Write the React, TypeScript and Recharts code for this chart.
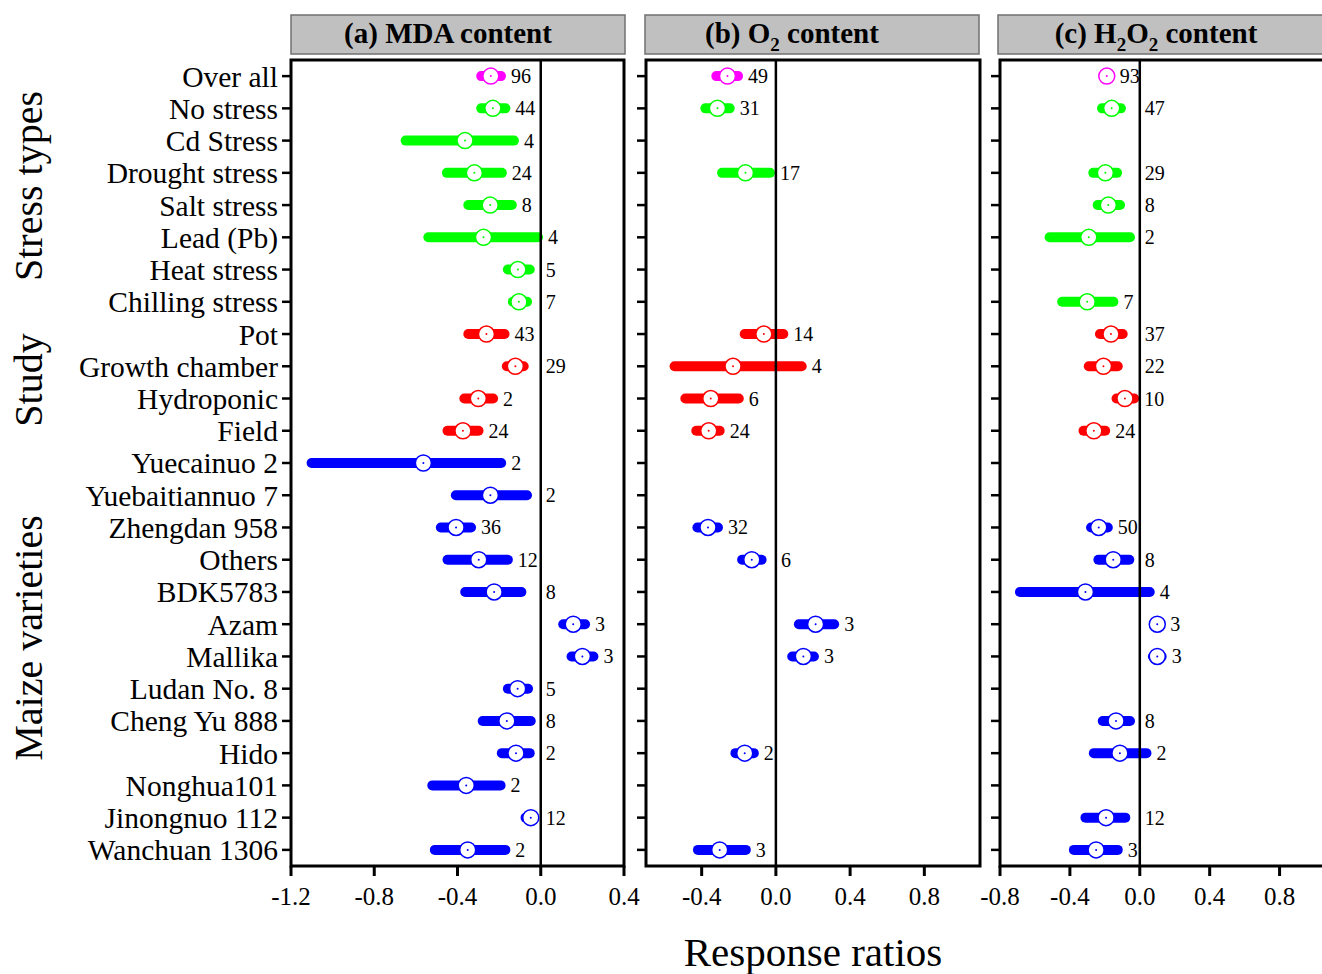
import React from 'react';
import { ComposedChart, XAxis, YAxis, Scatter, ReferenceLine, ReferenceArea } from 'recharts';

const categories = [
  'Over all', 'No stress', 'Cd Stress', 'Drought stress', 'Salt stress', 'Lead (Pb)', 'Heat stress',
  'Chilling stress', 'Pot', 'Growth chamber', 'Hydroponic', 'Field', 'Yuecainuo 2', 'Yuebaitiannuo 7',
  'Zhengdan 958', 'Others', 'BDK5783', 'Azam', 'Mallika', 'Ludan No. 8', 'Cheng Yu 888', 'Hido',
  'Nonghua101', 'Jinongnuo 112', 'Wanchuan 1306',
];

// group of each row: 0 = overall, 1 = stress types, 2 = study, 3 = maize varieties
const rowGroup = [0, 1, 1, 1, 1, 1, 1, 1, 2, 2, 2, 2, 3, 3, 3, 3, 3, 3, 3, 3, 3, 3, 3, 3, 3];
const groupColors = ['#FF00FF', '#00FF00', '#FF0000', '#0000FF'];

// (a) MDA content
const mdaMean = [-0.24, -0.23, -0.364, -0.319, -0.243, -0.275, -0.11, -0.105, -0.261, -0.122, -0.3, -0.374, -0.564, -0.242, -0.407, -0.298, -0.224, 0.156, 0.2, -0.111, -0.163, -0.119, -0.358, -0.048, -0.351];
const mdaLow = [-0.286, -0.286, -0.649, -0.451, -0.348, -0.54, -0.158, -0.134, -0.348, -0.163, -0.367, -0.448, -1.101, -0.408, -0.48, -0.448, -0.363, 0.108, 0.148, -0.158, -0.279, -0.187, -0.521, -0.073, -0.509];
const mdaHigh = [-0.191, -0.17, -0.129, -0.187, -0.139, -0.013, -0.053, -0.066, -0.174, -0.082, -0.229, -0.299, -0.19, -0.066, -0.335, -0.158, -0.093, 0.213, 0.253, -0.061, -0.048, -0.053, -0.193, -0.032, -0.17];
const mdaN = [96, 44, 4, 24, 8, 4, 5, 7, 43, 29, 2, 24, 2, 2, 36, 12, 8, 3, 3, 5, 8, 2, 2, 12, 2];

// (b) O2 content
const o2Mean = [-0.261, -0.315, null, -0.164, null, null, null, null, -0.065, -0.231, -0.351, -0.362, null, null, -0.366, -0.13, null, 0.214, 0.148, null, null, -0.168, null, null, -0.303];
const o2Low = [-0.321, -0.38, null, -0.29, null, null, null, null, -0.168, -0.546, -0.488, -0.429, null, null, -0.423, -0.182, null, 0.124, 0.088, null, null, -0.218, null, null, -0.42];
const o2High = [-0.204, -0.249, null, -0.032, null, null, null, null, 0.04, 0.139, -0.2, -0.303, null, null, -0.312, -0.077, null, 0.314, 0.205, null, null, -0.119, null, null, -0.162];
const o2N = [49, 31, null, 17, null, null, null, null, 14, 4, 6, 24, null, null, 32, 6, null, 3, 3, null, null, 2, null, null, 3];

// (c) H2O2 content
const h2o2Mean = [-0.189, -0.161, null, -0.197, -0.18, -0.292, null, -0.301, -0.165, -0.208, -0.085, -0.263, null, null, -0.235, -0.152, -0.311, 0.1, 0.1, null, -0.136, -0.114, null, -0.193, -0.25];
const h2o2Low = [-0.205, -0.216, null, -0.266, -0.241, -0.516, null, -0.444, -0.228, -0.292, -0.133, -0.322, null, null, -0.279, -0.237, -0.686, 0.095, 0.075, null, -0.212, -0.263, null, -0.311, -0.377];
const h2o2High = [-0.175, -0.108, null, -0.13, -0.113, -0.056, null, -0.151, -0.098, -0.126, -0.032, -0.198, null, null, -0.183, -0.06, 0.057, 0.105, 0.125, null, -0.056, 0.038, null, -0.083, -0.126];
const h2o2N = [93, 47, null, 29, 8, 2, null, 7, 37, 22, 10, 24, null, null, 50, 8, 4, 3, 3, null, 8, 2, null, 12, 3];

const rowIndex = categories.map((_, i) => i);

type Row = { y: number; x: number; lo: number; hi: number; n: number; color: string };

function buildRows(mean: (number | null)[], lo: (number | null)[], hi: (number | null)[], n: (number | null)[]): Row[] {
  const rows: Row[] = [];
  categories.forEach((_, i) => {
    if (mean[i] == null) return;
    rows.push({ y: i, x: mean[i] as number, lo: lo[i] as number, hi: hi[i] as number, n: n[i] as number, color: groupColors[rowGroup[i]] });
  });
  return rows;
}

const FONT = '"Liberation Serif", "Times New Roman", serif';

const Marker = (props: any) => {
  const { cx, cy, payload } = props;
  if (cx == null || cy == null) return null;
  return (
    <g>
      <circle cx={cx} cy={cy} r={8} fill="#fff" stroke={payload.color} strokeWidth={1.5} />
      <circle cx={cx} cy={cy} r={1} fill={payload.color} />
    </g>
  );
};

const NLabel = (props: any) => {
  const { cx, cy, payload } = props;
  if (cx == null || cy == null) return null;
  return (
    <text x={cx} y={cy} dy="0.35em" fontSize={20} fontFamily={FONT} fill="#000">
      {payload.n}
    </text>
  );
};

type PanelProps = {
  rows: Row[];
  domain: [number, number];
  ticks: number[];
  showLabels: boolean;
  left: number;
  width: number;
  yAxisWidth: number;
  marginRight: number;
};

function Panel({ rows, domain, ticks, showLabels, left, width, yAxisWidth, marginRight }: PanelProps) {
  // place the count label just right of the bar end (or marker), stepping past the zero line if it would cross it
  const plotW = width - yAxisWidth - marginRight;
  const ppu = plotW / (domain[1] - domain[0]);
  const labelRows = rows.map((r) => {
    let start = Math.max(r.hi * ppu + 5, r.x * ppu + 8) + 5;
    const w = String(r.n).length * 10;
    if (start < 4 && start + w > 0) start = 5;
    return { ...r, x: start / ppu };
  });
  return (
    <div style={{ position: 'absolute', left, top: 0 }}>
      <ComposedChart width={width} height={974} margin={{ top: 60, right: marginRight, bottom: 0, left: 0 }}>
        <XAxis
          type="number"
          dataKey="x"
          domain={domain}
          ticks={ticks}
          interval={0}
          allowDataOverflow
          height={108}
          tickSize={10}
          tickMargin={11}
          axisLine={false}
          tickLine={{ stroke: '#000', strokeWidth: 3 }}
          tick={{ fontSize: 25, fill: '#000', fontFamily: FONT }}
          tickFormatter={(v: number) => v.toFixed(1)}
        />
        <YAxis
          type="number"
          dataKey="y"
          domain={[-0.5, 24.5]}
          reversed
          ticks={rowIndex}
          interval={0}
          allowDataOverflow
          width={yAxisWidth}
          tickSize={9}
          tickMargin={4}
          axisLine={false}
          tickLine={{ stroke: '#000', strokeWidth: 2.5 }}
          tick={{ fontSize: 29.5, fill: '#000', fontFamily: FONT }}
          tickFormatter={(v: number) => (showLabels ? categories[v] : '')}
        />
        <ReferenceArea
          x1={domain[0]}
          x2={domain[1]}
          y1={-0.5}
          y2={24.5}
          fill="none"
          fillOpacity={0}
          stroke="#000"
          strokeWidth={3}
          ifOverflow="visible"
        />
        {rows.map((r) => (
          <ReferenceLine
            key={'seg' + r.y}
            segment={[{ x: r.lo, y: r.y }, { x: r.hi, y: r.y }]}
            stroke={r.color}
            strokeWidth={10}
            strokeLinecap="round"
            ifOverflow="visible"
          />
        ))}
        <ReferenceLine x={0} stroke="#000" strokeWidth={2.5} />
        <Scatter data={rows} dataKey="x" shape={Marker} isAnimationActive={false} />
        <Scatter data={labelRows} dataKey="x" shape={NLabel} isAnimationActive={false} />
      </ComposedChart>
    </div>
  );
}

const mdaRows = buildRows(mdaMean, mdaLow, mdaHigh, mdaN);
const o2Rows = buildRows(o2Mean, o2Low, o2High, o2N);
const h2o2Rows = buildRows(h2o2Mean, h2o2Low, h2o2High, h2o2N);

export default function App() {
  const headerStyle = { fontSize: 29, fontWeight: 700, fontFamily: FONT, fill: '#000' } as const;
  return (
    <div style={{ position: 'absolute', left: 0, top: 0, width: 1322, height: 974, overflow: 'hidden', background: '#fff', fontFamily: FONT }}>
      <Panel rows={mdaRows} domain={[-1.2, 0.4]} ticks={[-1.2, -0.8, -0.4, 0, 0.4]} showLabels left={0} width={640} yAxisWidth={291} marginRight={16} />
      <Panel rows={o2Rows} domain={[-0.7, 1.1]} ticks={[-0.4, 0, 0.4, 0.8]} showLabels={false} left={620} width={370} yAxisWidth={26} marginRight={10} />
      <Panel rows={h2o2Rows} domain={[-0.8, 1.1]} ticks={[-0.8, -0.4, 0, 0.4, 0.8]} showLabels={false} left={974} width={368} yAxisWidth={26} marginRight={10} />
      <svg width={1322} height={974} style={{ position: 'absolute', left: 0, top: 0, pointerEvents: 'none' }}>
        <rect x={291} y={15} width={334} height={39} fill="#C0C0C0" stroke="#707070" strokeWidth={1.5} />
        <rect x={645} y={15} width={334} height={39} fill="#C0C0C0" stroke="#707070" strokeWidth={1.5} />
        <rect x={998} y={15} width={340} height={39} fill="#C0C0C0" stroke="#707070" strokeWidth={1.5} />
        <text x={448} y={43} textAnchor="middle" style={headerStyle}>(a) MDA content</text>
        <text x={792} y={43} textAnchor="middle" style={headerStyle}>
          (b) O<tspan dy={8} fontSize={19}>2</tspan><tspan dy={-8}> content</tspan>
        </text>
        <text x={1156} y={43} textAnchor="middle" style={headerStyle}>
          (c) H<tspan dy={8} fontSize={19}>2</tspan><tspan dy={-8}>O</tspan><tspan dy={8} fontSize={19}>2</tspan><tspan dy={-8}> content</tspan>
        </text>
        <text x={42} y={186} textAnchor="middle" transform="rotate(-90 42 186)" fontSize={40} fontFamily={FONT} fill="#000">Stress types</text>
        <text x={42} y={380} textAnchor="middle" transform="rotate(-90 42 380)" fontSize={40} fontFamily={FONT} fill="#000">Study</text>
        <text x={42} y={638} textAnchor="middle" transform="rotate(-90 42 638)" fontSize={40} fontFamily={FONT} fill="#000">Maize varieties</text>
        <text x={813} y={966} textAnchor="middle" fontSize={41} fontFamily={FONT} fill="#000">Response ratios</text>
      </svg>
    </div>
  );
}
